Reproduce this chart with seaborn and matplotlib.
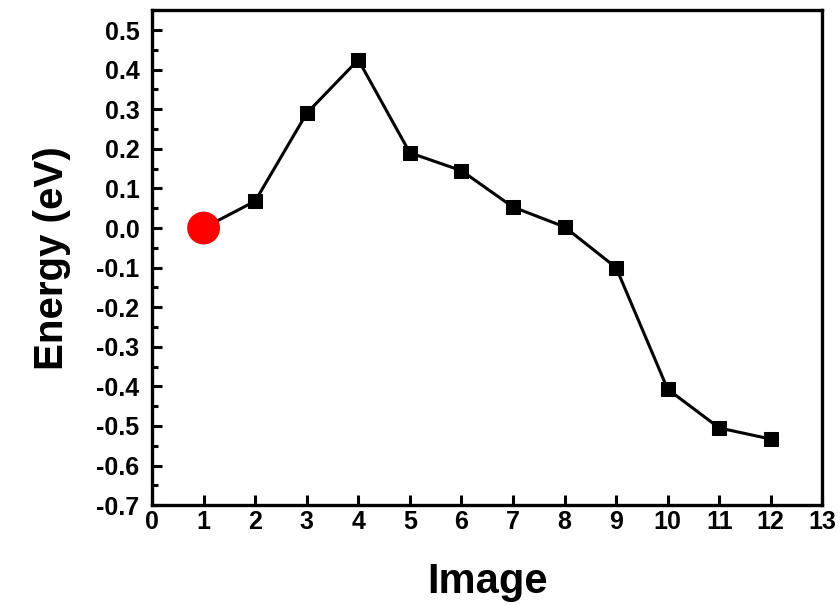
import numpy as np
import pandas as pd
import matplotlib
matplotlib.use('Agg')
import matplotlib.pyplot as plt
import seaborn as sns
from matplotlib.ticker import MultipleLocator

image = [1, 2, 3, 4, 5, 6, 7, 8, 9, 10, 11, 12]
energy = [0.0, 0.068, 0.29, 0.425, 0.19, 0.145, 0.053, 0.003, -0.10, -0.407, -0.505, -0.533]

df = pd.DataFrame({'Image': image, 'Energy': energy})

sns.set_style('ticks')
plt.rcParams['font.family'] = ['Liberation Sans', 'DejaVu Sans']
plt.rcParams['font.weight'] = 'bold'
plt.rcParams['text.color'] = 'black'
plt.rcParams['axes.labelcolor'] = 'black'
plt.rcParams['xtick.color'] = 'black'
plt.rcParams['ytick.color'] = 'black'
plt.rcParams['axes.edgecolor'] = 'black'

fig = plt.figure(figsize=(8.4, 6.05), dpi=100)
ax = fig.add_axes([0.181, 0.165, 0.798, 0.818])

sns.lineplot(data=df, x='Image', y='Energy', color='black', linewidth=2.2,
             marker='s', markersize=10, markeredgecolor='black', ax=ax)
# starting image highlighted in red
sns.scatterplot(data=df.iloc[:1], x='Image', y='Energy', color='red', s=560,
                edgecolor='none', zorder=5, ax=ax)

ax.set_xlim(0, 13)
ax.set_ylim(-0.7, 0.55)
ax.xaxis.set_major_locator(MultipleLocator(1))
ax.yaxis.set_minor_locator(MultipleLocator(0.05))
ax.set_yticks(np.round(np.arange(-0.7, 0.51, 0.1), 1))
ax.yaxis.set_major_formatter(plt.FuncFormatter(lambda v, p: f'{v + 0.0:.1f}' if abs(v) > 1e-9 else '0.0'))

ax.tick_params(which='both', direction='in', width=2.2, labelsize=18)
ax.tick_params(which='major', length=7)
ax.tick_params(which='minor', length=4)
ax.tick_params(axis='y', pad=9)
for s in ax.spines.values():
    s.set_linewidth(2.4)

ax.set_xlabel('Image', fontsize=30, fontweight='bold', labelpad=20)
ax.set_ylabel('Energy (eV)', fontsize=29, fontweight='bold', labelpad=18)
for lbl in ax.get_xticklabels() + ax.get_yticklabels():
    lbl.set_fontweight('bold')

fig.savefig('out.png', dpi=100)
